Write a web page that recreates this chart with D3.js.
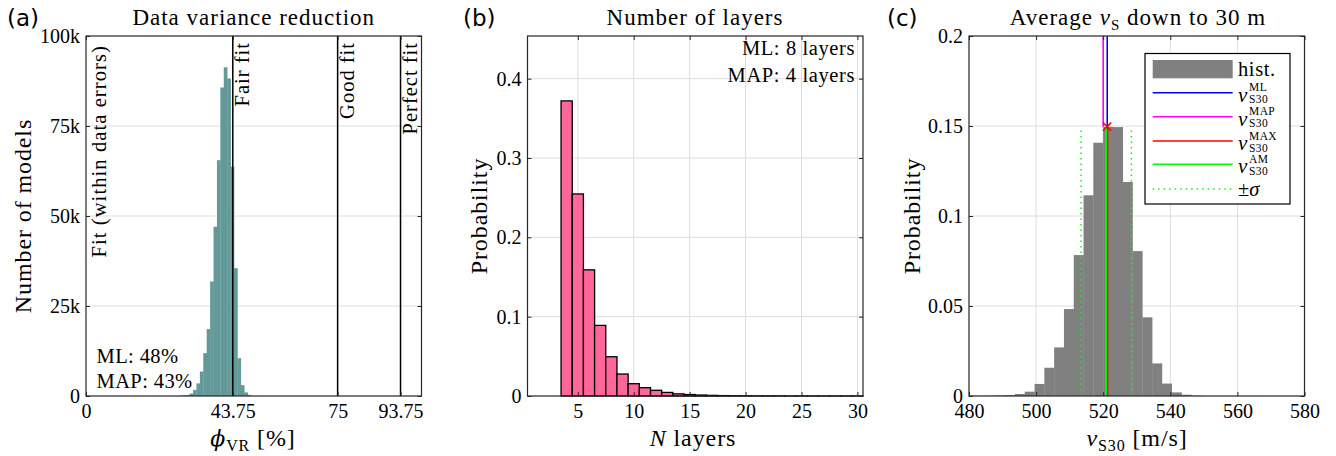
<!DOCTYPE html>
<html><head><meta charset="utf-8">
<script src="https://cdn.jsdelivr.net/npm/d3@7"></script>
<style>
body{margin:0;background:#fff}
svg text{font-family:"Liberation Serif","Times New Roman",serif;fill:#000}
</style></head><body>
<svg id="fig" width="1336" height="456"></svg>
<script>
// ---------- (a) data variance reduction histogram ----------
const vrBinStart = 27.84;           // % (left edge of first bin)
const vrBinWidth = 1.017;           // %
const vrCounts = [100, 200, 300, 700, 1700, 3500, 6800, 11900, 18600, 31800, 47000,
                  65500, 85700, 91300, 88200, 63700, 35500, 10500, 3000, 1000, 300];
const vrXTicks = [0, 43.75, 75, 93.75];
const vrYTicks = [0, 25000, 50000, 75000, 100000];
const vrFitLines = [43.75, 75, 93.75];
const vrFitLabels = ["Fair fit", "Good fit", "Perfect fit"];
const vrStats = ["ML: 48%", "MAP: 43%"];

// ---------- (b) number of layers ----------
const layerN = [1,2,3,4,5,6,7,8,9,10,11,12,13,14,15,16,17,18,19,20,21,22,23,24,25,26,27,28,29,30];
const layerProb = [0, 0, 0, 0.372, 0.2547, 0.159, 0.089, 0.0495, 0.0277, 0.0155, 0.0105, 0.0072,
                   0.0045, 0.0027, 0.0018, 0.0012, 0.0008, 0.0005, 0.0003, 0.0002, 0.00015, 0.0001,
                   0.0001, 0.00005, 0.00005, 0.00003, 0.00002, 0.00002, 0.00001, 0.00001];
const layerXTicks = [5, 10, 15, 20, 25, 30];
const layerYTicks = [0, 0.1, 0.2, 0.3, 0.4];
const layerStats = ["ML: 8 layers", "MAP: 4 layers"];

// ---------- (c) vs30 histogram ----------
const vsBinStart = 479.1;           // m/s
const vsBinWidth = 2.92;            // m/s
const vsProb = [0.0001, 0.0001, 0.0002, 0.0003, 0.0005, 0.0011, 0.0024, 0.0067, 0.0157, 0.027,
                0.0483, 0.0783, 0.1115, 0.1407, 0.1496, 0.1494, 0.1189, 0.0805, 0.0437, 0.0181,
                0.0069, 0.002, 0.0007, 0.0002];
const vsXTicks = [480, 500, 520, 540, 560, 580];
const vsYTicks = [0, 0.05, 0.1, 0.15, 0.2];
const vsML = 521.2, vsMAP = 520.0, vsMAX = 521.3, vsAM = 520.9, vsSigma = 7.5;

// ---------- layout ----------
const TOP = 36, BOTTOM = 396, PW = 335.5;
const LEFTS = [86, 527.5, 969];
const GRID = "#dedede", AXIS = "#262626";
const FS_TICK = 20, FS_TITLE = 23, FS_LABEL = 24, FS_NOTE = 20.5;

const svg = d3.select("#fig");

function gridLines(g, x, y, xt, yt) {
  const [x0, x1] = x.range();
  g.append("g").selectAll("line").data(xt).join("line")
    .attr("x1", d => x(d)).attr("x2", d => x(d)).attr("y1", TOP).attr("y2", BOTTOM)
    .attr("stroke", GRID).attr("stroke-width", 1);
  g.append("g").selectAll("line").data(yt).join("line")
    .attr("x1", x0).attr("x2", x1).attr("y1", d => y(d)).attr("y2", d => y(d))
    .attr("stroke", GRID).attr("stroke-width", 1);
}

function styleAxis(s) {
  s.select(".domain").remove();
  s.attr("font-family", null).attr("font-size", FS_TICK).attr("color", AXIS);
  s.selectAll("text").attr("fill", "#000");
  s.selectAll("line").attr("stroke-width", 1);
}

function axesBox(g, x, y, xt, yt, xf, yf) {
  const [x0, x1] = x.range();
  g.append("g").attr("transform", `translate(0,${BOTTOM})`)
    .call(d3.axisBottom(x).tickValues(xt).tickSize(-4).tickPadding(8).tickFormat(xf)).call(styleAxis);
  g.append("g").attr("transform", `translate(0,${TOP})`)
    .call(d3.axisTop(x).tickValues(xt).tickSize(-4).tickFormat("")).call(styleAxis);
  g.append("g").attr("transform", `translate(${x0},0)`)
    .call(d3.axisLeft(y).tickValues(yt).tickSize(-4).tickPadding(6).tickFormat(yf)).call(styleAxis);
  g.append("g").attr("transform", `translate(${x1},0)`)
    .call(d3.axisRight(y).tickValues(yt).tickSize(-4).tickFormat("")).call(styleAxis);
  g.append("rect").attr("x", x0).attr("y", TOP).attr("width", x1 - x0).attr("height", BOTTOM - TOP)
    .attr("fill", "none").attr("stroke", AXIS).attr("stroke-width", 1.2);
}

// text made of styled pieces (italic, sub/superscripts)
function rich(sel, parts) {
  parts.forEach(p => {
    const t = sel.append("tspan").text(p.t);
    if (p.it) t.attr("font-style", "italic");
    if (p.fs) t.attr("font-size", p.fs);
    if (p.dy) t.attr("dy", p.dy);
    if (p.ff) t.style("font-family", p.ff);
  });
  return sel;
}

function title(cx, parts) {
  rich(svg.append("text").attr("x", cx).attr("y", 25).attr("text-anchor", "middle")
    .attr("font-size", FS_TITLE).attr("letter-spacing", 1), parts);
}
function xLabel(cx, parts) {
  rich(svg.append("text").attr("x", cx).attr("y", 446).attr("text-anchor", "middle")
    .attr("font-size", FS_LABEL).attr("letter-spacing", 0.9), parts);
}
function yLabel(bx, txt) {
  svg.append("text").attr("transform", `translate(${bx},${(TOP + BOTTOM) / 2}) rotate(-90)`)
    .attr("text-anchor", "middle").attr("font-size", FS_LABEL).attr("letter-spacing", 0.9).text(txt);
}
function panelTag(x, txt) {
  svg.append("text").attr("x", x).attr("y", 26).attr("font-size", 23)
    .style("font-family", "'DejaVu Sans',sans-serif").text(txt);
}

// ================= (a) =================
{
  const g = svg.append("g");
  const x = d3.scaleLinear().domain([0, 100]).range([LEFTS[0], LEFTS[0] + PW]);
  const y = d3.scaleLinear().domain([0, 100000]).range([BOTTOM, TOP]);
  gridLines(g, x, y, vrXTicks.slice(1), vrYTicks.slice(1, -1));
  g.append("g").selectAll("rect").data(vrCounts).join("rect")
    .attr("x", (d, i) => x(vrBinStart + i * vrBinWidth))
    .attr("width", x(vrBinWidth) - x(0) + 0.3)
    .attr("y", d => y(d)).attr("height", d => y(0) - y(d))
    .attr("fill", "#639999");
  g.append("g").selectAll("line").data(vrFitLines).join("line")
    .attr("x1", d => x(d)).attr("x2", d => x(d)).attr("y1", TOP).attr("y2", BOTTOM)
    .attr("stroke", "#000").attr("stroke-width", 1.5);
  g.append("g").selectAll("text").data(vrFitLabels).join("text")
    .attr("transform", (d, i) => `translate(${x(vrFitLines[i]) + 16},42) rotate(-90)`)
    .attr("text-anchor", "end").attr("font-size", FS_NOTE).attr("letter-spacing", 1).text(d => d);
  g.append("text").attr("transform", `translate(${x(0) + 20},45) rotate(-90)`)
    .attr("text-anchor", "end").attr("font-size", FS_NOTE).attr("letter-spacing", 1.1)
    .text("Fit (within data errors)");
  g.append("g").selectAll("text").data(vrStats).join("text")
    .attr("x", x(0) + 10.5).attr("y", (d, i) => 363 + i * 25)
    .attr("font-size", FS_NOTE).attr("letter-spacing", 0.4).text(d => d);
  axesBox(g, x, y, vrXTicks, vrYTicks, d => String(d), d => d === 0 ? "0" : (d / 1000) + "k");
  title((LEFTS[0] * 2 + PW) / 2, [{t: "Data variance reduction"}]);
  xLabel(253, [{t: "\u03D5", it: true, ff: "'DejaVu Serif',serif", fs: 22}, {t: "VR", fs: 16, dy: 5}, {t: " [%]", dy: -5}]);
  yLabel(31, "Number of models");
  panelTag(7, "(a)");
}

// ================= (b) =================
{
  const g = svg.append("g");
  const x = d3.scaleLinear().domain([0.5, 30.5]).range([LEFTS[1], LEFTS[1] + PW]);
  const y = d3.scaleLinear().domain([0, 0.4538]).range([BOTTOM, TOP]);
  gridLines(g, x, y, layerXTicks, layerYTicks.slice(1));
  g.append("g").selectAll("rect").data(layerProb).join("rect")
    .attr("x", (d, i) => x(layerN[i] - 0.5))
    .attr("width", x(1) - x(0))
    .attr("y", d => y(d)).attr("height", d => y(0) - y(d))
    .attr("fill", "#ff6699").attr("stroke", "#000").attr("stroke-width", 1.3);
  g.append("g").selectAll("text").data(layerStats).join("text")
    .attr("x", 855).attr("y", (d, i) => 55 + i * 26.5).attr("text-anchor", "end")
    .attr("font-size", FS_NOTE).attr("letter-spacing", 0.6).text(d => d);
  axesBox(g, x, y, layerXTicks, layerYTicks, d => String(d), d3.format("~g"));
  title(695, [{t: "Number of layers"}]);
  xLabel(693, [{t: "N", it: true}, {t: " layers"}]);
  yLabel(487, "Probability");
  panelTag(463, "(b)");
}

// ================= (c) =================
{
  const g = svg.append("g");
  const x = d3.scaleLinear().domain([480, 580]).range([LEFTS[2], LEFTS[2] + PW]);
  const y = d3.scaleLinear().domain([0, 0.2]).range([BOTTOM, TOP]);
  gridLines(g, x, y, vsXTicks.slice(1, -1), vsYTicks.slice(1, -1));
  const clipId = "clipC";
  svg.append("defs").append("clipPath").attr("id", clipId).append("rect")
    .attr("x", x(480)).attr("y", TOP).attr("width", PW).attr("height", BOTTOM - TOP);
  g.append("g").attr("clip-path", `url(#${clipId})`).selectAll("rect").data(vsProb).join("rect")
    .attr("x", (d, i) => x(vsBinStart + i * vsBinWidth))
    .attr("width", x(vsBinWidth) - x(0) + 0.3)
    .attr("y", d => y(d)).attr("height", d => y(0) - y(d))
    .attr("fill", "#808080");
  const peak = d3.max(vsProb);
  // ML / MAP above the histogram peak
  g.append("line").attr("x1", x(vsML)).attr("x2", x(vsML)).attr("y1", y(peak)).attr("y2", TOP)
    .attr("stroke", "#0000ff").attr("stroke-width", 1.6);
  g.append("line").attr("x1", x(vsMAP)).attr("x2", x(vsMAP)).attr("y1", y(peak)).attr("y2", TOP)
    .attr("stroke", "#ff00ff").attr("stroke-width", 1.6);
  g.append("line").attr("x1", x(vsMAX)).attr("x2", x(vsMAX)).attr("y1", y(0)).attr("y2", y(peak))
    .attr("stroke", "#ff0000").attr("stroke-width", 1.7);
  g.append("line").attr("x1", x(vsAM)).attr("x2", x(vsAM)).attr("y1", y(0)).attr("y2", y(peak))
    .attr("stroke", "#00ff00").attr("stroke-width", 1.7);
  g.append("g").selectAll("line").data([vsAM - vsSigma, vsAM + vsSigma]).join("line")
    .attr("x1", d => x(d)).attr("x2", d => x(d)).attr("y1", y(0)).attr("y2", y(0.149))
    .attr("stroke", "#00ff00").attr("stroke-width", 1.5).attr("stroke-dasharray", "1.5,4");
  g.append("path").attr("d", d3.symbol(d3.symbolX, 45)())
    .attr("transform", `translate(${x(vsMAX) - 0.5},${y(peak)})`)
    .attr("fill", "none").attr("stroke", "#ff0000").attr("stroke-width", 1.5);
  axesBox(g, x, y, vsXTicks, vsYTicks, d => String(d), d3.format("~g"));

  // legend
  const lg = svg.append("g");
  lg.append("rect").attr("x", 1145).attr("y", 53.5).attr("width", 145).attr("height", 150.5)
    .attr("fill", "#fff").attr("stroke", "#000").attr("stroke-width", 1.2);
  lg.append("rect").attr("x", 1152.7).attr("y", 60).attr("width", 80).attr("height", 18.3).attr("fill", "#808080");
  lg.append("text").attr("x", 1238).attr("y", 76).attr("font-size", FS_NOTE).attr("letter-spacing", 0.6).text("hist.");
  const legRows = [
    {sup: "ML", color: "#0000ff", y: 92.7},
    {sup: "MAP", color: "#ff00ff", y: 116.7},
    {sup: "MAX", color: "#ff0000", y: 141},
    {sup: "AM", color: "#00ff00", y: 164.3}
  ];
  legRows.forEach(r => {
    lg.append("line").attr("x1", 1152.7).attr("x2", 1232.7).attr("y1", r.y).attr("y2", r.y)
      .attr("stroke", r.color).attr("stroke-width", 1.6);
    lg.append("text").attr("x", 1238).attr("y", r.y + 9).attr("font-size", 21).attr("font-style", "italic").text("v");
    lg.append("text").attr("x", 1249).attr("y", r.y - 1.5).attr("font-size", 11.5).attr("letter-spacing", 0.4).text(r.sup);
    lg.append("text").attr("x", 1249).attr("y", r.y + 10.5).attr("font-size", 11.5).attr("letter-spacing", 0.4).text("S30");
  });
  lg.append("line").attr("x1", 1152.7).attr("x2", 1232.7).attr("y1", 189).attr("y2", 189)
    .attr("stroke", "#00ff00").attr("stroke-width", 1.5).attr("stroke-dasharray", "1.5,4");
  rich(lg.append("text").attr("x", 1238).attr("y", 196).attr("font-size", FS_NOTE),
    [{t: "±"}, {t: "σ", it: true}]);

  title(1138, [{t: "Average "}, {t: "v", it: true}, {t: "S", fs: 15, dy: 5}, {t: " down to 30 m", dy: -5}]);
  xLabel(1137, [{t: "v", it: true}, {t: "S30", fs: 16, dy: 5}, {t: " [m/s]", dy: -5}]);
  yLabel(920, "Probability");
  panelTag(887, "(c)");
}
</script>
</body></html>
